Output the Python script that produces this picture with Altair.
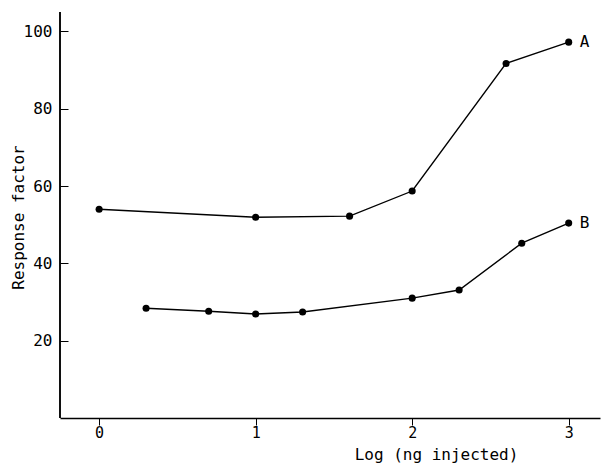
import altair as alt
import pandas as pd

# Series A
a_x = [0.0, 1.0, 1.6, 2.0, 2.6, 3.0]
a_y = [54.0, 51.9, 52.2, 58.7, 91.7, 97.2]
# Series B
b_x = [0.3, 0.7, 1.0, 1.3, 2.0, 2.3, 2.7, 3.0]
b_y = [28.4, 27.6, 26.9, 27.4, 31.0, 33.1, 45.2, 50.4]

series_names = ["A", "B"]
x_ticks = [0, 1, 2, 3]
y_ticks = [20, 40, 60, 80, 100]

df = pd.DataFrame(
    {"x": a_x + b_x, "y": a_y + b_y,
     "s": [series_names[0]] * len(a_x) + [series_names[1]] * len(b_x)}
)
lab = pd.DataFrame({"x": [a_x[-1], b_x[-1]], "y": [a_y[-1], b_y[-1]], "s": series_names})

FONT = "DejaVu Sans Mono"
W, H = 540, 406

xs = alt.Scale(domain=[-0.25, 3.2], nice=False, zero=False)
ys = alt.Scale(domain=[0, 105], nice=False)

xax = alt.Axis(values=x_ticks, format="d", title="Log (ng injected)", grid=False, tickSize=7,
               labelPadding=0, domainColor="black", tickColor="black", domainWidth=1.5,
               labelFontSize=15, titleFontSize=16, titleFontWeight="normal",
               labelFont=FONT, titleFont=FONT, labelColor="black", titleColor="black",
               titleX=376, titleY=36, titleBaseline="middle", titleAlign="center")
yax = alt.Axis(values=y_ticks, title="Response factor", grid=False, tickSize=8, offset=-8,
               domain=False, labelPadding=8, tickColor="black",
               labelFontSize=16, titleFontSize=16, titleFontWeight="normal",
               labelFont=FONT, titleFont=FONT, labelColor="black", titleColor="black",
               titleX=-50, titleY=H / 2 + 2, titleBaseline="middle", titleAlign="center",
               titleAngle=-90)

base = alt.Chart(df)
lines = base.mark_line(color="black", strokeWidth=1.4).encode(
    x=alt.X("x:Q", scale=xs, axis=xax),
    y=alt.Y("y:Q", scale=ys, axis=yax),
    detail="s:N",
)
pts = base.mark_circle(color="black", opacity=1, size=50).encode(
    x=alt.X("x:Q", scale=xs), y=alt.Y("y:Q", scale=ys)
)
texts = alt.Chart(lab).mark_text(align="left", baseline="middle", dx=11, fontSize=16,
                                 font=FONT, color="black").encode(
    x=alt.X("x:Q", scale=xs), y=alt.Y("y:Q", scale=ys), text="s:N"
)
yline = alt.Chart(lab).mark_rule(color="black", strokeWidth=1.5).encode(
    x=alt.value(0), y=alt.value(0), y2=alt.value(H)
)

chart = alt.layer(yline, lines, pts, texts).properties(
    width=W, height=H,
    autosize=alt.AutoSizeParams(type="none"),
    padding={"left": 60, "top": 12, "right": 6, "bottom": 45},
    background="white",
).configure_view(stroke=None)

chart.save("out.html", embed_options={"renderer": "svg", "actions": False})
